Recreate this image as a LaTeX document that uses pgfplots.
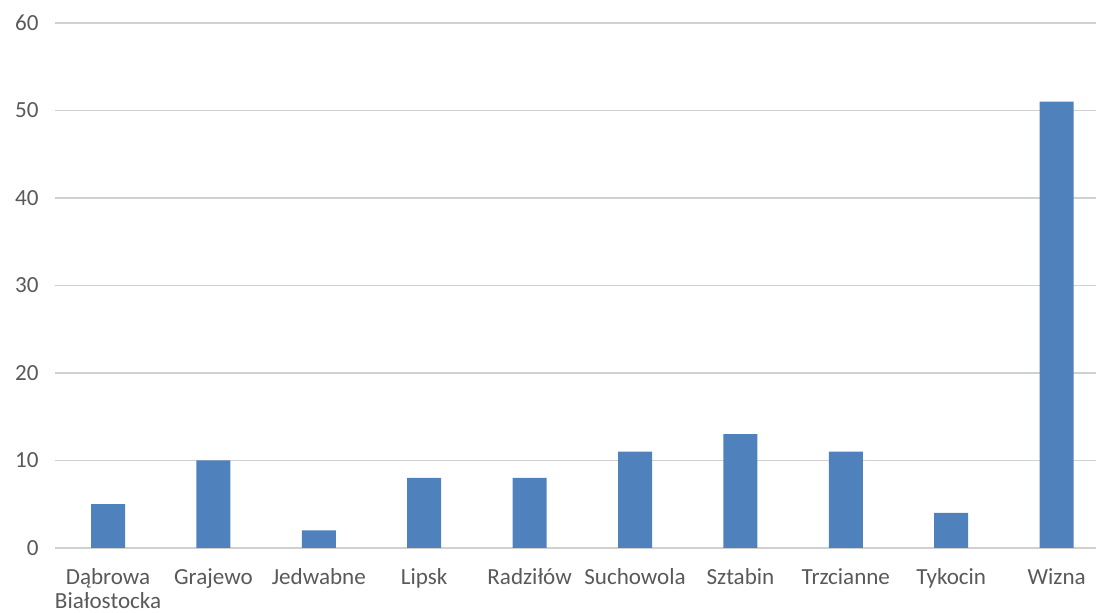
\documentclass[border=0pt]{standalone}
\usepackage{pgfplots}
\pgfplotsset{compat=1.18}
\usepackage{fontspec}
\setmainfont{Carlito}
\definecolor{barblue}{HTML}{4F81BD}
\definecolor{gridgray}{HTML}{D0D0D0}
\definecolor{textgray}{HTML}{595959}
\begin{document}
\begin{tikzpicture}
\path[use as bounding box] (0,0) rectangle (822pt,459.75pt);
\begin{axis}[
  at={(41.5pt,48.75pt)}, anchor=south west,
  scale only axis,
  width=790.5pt, height=393.75pt,
  xmin=-0.5, xmax=9.5,
  ymin=0, ymax=60,
  ytick={0,10,...,60},
  xtick={0,...,9},
  xticklabels={{Dąbrowa\\[-1.5pt]Białostocka},Grajewo,Jedwabne,Lipsk,Radziłów,Suchowola,Sztabin,Trzcianne,Tykocin,Wizna},
  xticklabel style={align=center, font=\fontsize{17.3}{19}\selectfont, text=textgray, yshift=-12pt},
  yticklabel style={font=\fontsize{17.3}{19}\selectfont, text=textgray, xshift=-9pt},
  /pgf/number format/assume math mode=true,
  major tick length=0pt,
  ymajorgrids,
  grid style={gridgray, line width=1.3pt},
  axis x line*=bottom,
  axis y line*=left,
  x axis line style={draw=gridgray, line width=1.3pt, -},
  y axis line style={draw=none},
  ybar, bar width=25.5pt,
  clip=false,
]
\addplot[fill=barblue, draw=none] coordinates {(0,5) (1,10) (2,2) (3,8) (4,8) (5,11) (6,13) (7,11) (8,4) (9,51)};
\end{axis}
\end{tikzpicture}
\end{document}
